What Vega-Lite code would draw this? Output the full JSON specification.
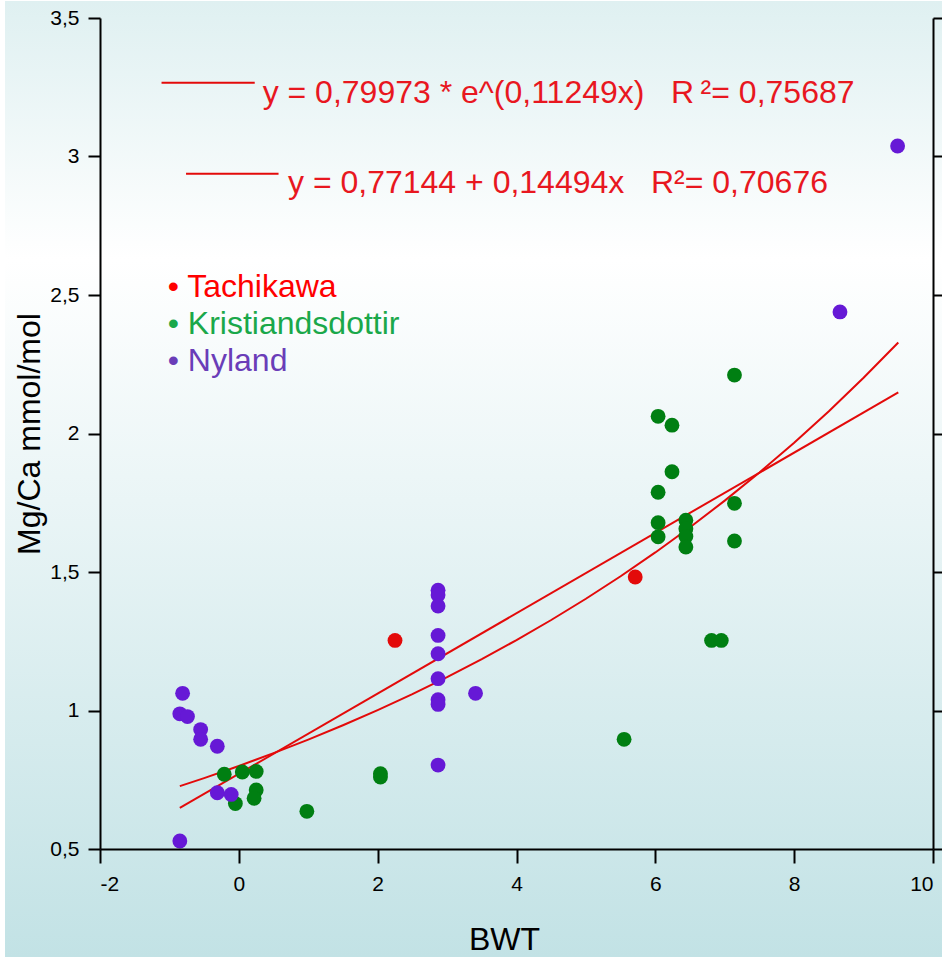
{
  "$schema": "https://vega.github.io/schema/vega-lite/v6.json",
  "width": 833,
  "height": 831,
  "padding": {"left": 5, "top": 0, "right": 0, "bottom": 0},
  "autosize": {"type": "pad"},
  "background": "#ffffff",
  "config": {
    "view": {"stroke": null},
    "font": "Liberation Sans",
    "axis": {
      "grid": false,
      "domainColor": "#000000",
      "domainWidth": 2,
      "tickColor": "#000000",
      "tickWidth": 2,
      "labelFont": "Liberation Sans",
      "labelFontSize": 21,
      "labelColor": "#000000",
      "titleFont": "Liberation Sans",
      "titleFontSize": 32,
      "titleFontWeight": "normal",
      "titleColor": "#000000"
    }
  },
  "datasets": {
    "samples": [
      {"source": "Tachikawa", "bwt": 2.25, "mgca": 1.253},
      {"source": "Tachikawa", "bwt": 5.71, "mgca": 1.482},
      {"source": "Kristiandsdottir", "bwt": -0.21, "mgca": 0.770},
      {"source": "Kristiandsdottir", "bwt": 0.05, "mgca": 0.778},
      {"source": "Kristiandsdottir", "bwt": 0.25, "mgca": 0.780},
      {"source": "Kristiandsdottir", "bwt": 0.25, "mgca": 0.713},
      {"source": "Kristiandsdottir", "bwt": 0.22, "mgca": 0.683},
      {"source": "Kristiandsdottir", "bwt": -0.05, "mgca": 0.664},
      {"source": "Kristiandsdottir", "bwt": 0.98, "mgca": 0.636},
      {"source": "Kristiandsdottir", "bwt": 2.04, "mgca": 0.772},
      {"source": "Kristiandsdottir", "bwt": 2.04, "mgca": 0.760},
      {"source": "Kristiandsdottir", "bwt": 5.55, "mgca": 0.896},
      {"source": "Kristiandsdottir", "bwt": 6.04, "mgca": 2.062},
      {"source": "Kristiandsdottir", "bwt": 6.04, "mgca": 1.788},
      {"source": "Kristiandsdottir", "bwt": 6.04, "mgca": 1.678},
      {"source": "Kristiandsdottir", "bwt": 6.04, "mgca": 1.627},
      {"source": "Kristiandsdottir", "bwt": 6.24, "mgca": 2.030},
      {"source": "Kristiandsdottir", "bwt": 6.24, "mgca": 1.862},
      {"source": "Kristiandsdottir", "bwt": 6.44, "mgca": 1.687},
      {"source": "Kristiandsdottir", "bwt": 6.44, "mgca": 1.656},
      {"source": "Kristiandsdottir", "bwt": 6.44, "mgca": 1.628},
      {"source": "Kristiandsdottir", "bwt": 6.44, "mgca": 1.590},
      {"source": "Kristiandsdottir", "bwt": 6.81, "mgca": 1.253},
      {"source": "Kristiandsdottir", "bwt": 6.95, "mgca": 1.253},
      {"source": "Kristiandsdottir", "bwt": 7.14, "mgca": 2.211},
      {"source": "Kristiandsdottir", "bwt": 7.14, "mgca": 1.748},
      {"source": "Kristiandsdottir", "bwt": 7.14, "mgca": 1.612},
      {"source": "Nyland", "bwt": 9.49, "mgca": 3.038},
      {"source": "Nyland", "bwt": 8.66, "mgca": 2.439},
      {"source": "Nyland", "bwt": -0.81, "mgca": 1.062},
      {"source": "Nyland", "bwt": -0.85, "mgca": 0.988},
      {"source": "Nyland", "bwt": -0.74, "mgca": 0.978},
      {"source": "Nyland", "bwt": -0.55, "mgca": 0.931},
      {"source": "Nyland", "bwt": -0.55, "mgca": 0.896},
      {"source": "Nyland", "bwt": -0.31, "mgca": 0.871},
      {"source": "Nyland", "bwt": -0.31, "mgca": 0.703},
      {"source": "Nyland", "bwt": -0.11, "mgca": 0.697},
      {"source": "Nyland", "bwt": -0.85, "mgca": 0.529},
      {"source": "Nyland", "bwt": 2.87, "mgca": 1.434},
      {"source": "Nyland", "bwt": 2.87, "mgca": 1.417},
      {"source": "Nyland", "bwt": 2.87, "mgca": 1.377},
      {"source": "Nyland", "bwt": 2.87, "mgca": 1.271},
      {"source": "Nyland", "bwt": 2.87, "mgca": 1.205},
      {"source": "Nyland", "bwt": 2.87, "mgca": 1.115},
      {"source": "Nyland", "bwt": 2.87, "mgca": 1.039},
      {"source": "Nyland", "bwt": 2.87, "mgca": 1.022},
      {"source": "Nyland", "bwt": 2.87, "mgca": 0.803},
      {"source": "Nyland", "bwt": 3.41, "mgca": 1.062}
    ],
    "expFit": [
      {"bwt": -0.85, "mgca": 0.7268},
      {"bwt": -0.5, "mgca": 0.7560},
      {"bwt": 0, "mgca": 0.7997},
      {"bwt": 0.5, "mgca": 0.8460},
      {"bwt": 1, "mgca": 0.8949},
      {"bwt": 1.5, "mgca": 0.9467},
      {"bwt": 2, "mgca": 1.0015},
      {"bwt": 2.5, "mgca": 1.0594},
      {"bwt": 3, "mgca": 1.1207},
      {"bwt": 3.5, "mgca": 1.1856},
      {"bwt": 4, "mgca": 1.2542},
      {"bwt": 4.5, "mgca": 1.3267},
      {"bwt": 5, "mgca": 1.4035},
      {"bwt": 5.5, "mgca": 1.4847},
      {"bwt": 6, "mgca": 1.5706},
      {"bwt": 6.5, "mgca": 1.6615},
      {"bwt": 7, "mgca": 1.7576},
      {"bwt": 7.5, "mgca": 1.8593},
      {"bwt": 8, "mgca": 1.9669},
      {"bwt": 8.5, "mgca": 2.0807},
      {"bwt": 9, "mgca": 2.2011},
      {"bwt": 9.5, "mgca": 2.3284}
    ],
    "linFit": [
      {"bwt": -0.85, "mgca": 0.6482},
      {"bwt": 9.5, "mgca": 2.1484}
    ]
  },
  "layer": [
    {
      "description": "slide background gradient",
      "data": {"values": [{}]},
      "mark": {
        "type": "rect",
        "fill": {
          "gradient": "linear",
          "x1": 0, "y1": 0, "x2": 0, "y2": 1,
          "stops": [
            {"offset": 0, "color": "#dff0f1"},
            {"offset": 0.27, "color": "#ffffff"},
            {"offset": 1, "color": "#c2e2e5"}
          ]
        }
      },
      "encoding": {
        "x": {
          "datum": -3.3685, "type": "quantitative",
          "scale": {"domain": [-2, 10], "nice": false, "zero": false},
          "axis": {
            "zindex": 2, "title": "BWT", "values": [-2, 0, 2, 4, 6, 8, 10], "tickSize": 14, "labelPadding": 10,
            "titlePadding": 30, "titleX": 404,
            "labelExpr": "replace(toString(datum.value), '.', ',')"
          }
        },
        "x2": {"datum": 10.1296},
        "y": {
          "datum": 3.5614, "type": "quantitative",
          "scale": {"domain": [0.5, 3.5], "nice": false, "zero": false},
          "axis": {
            "zindex": 2, "title": "Mg/Ca mmol/mol", "orient": "left", "values": [0.5, 1, 1.5, 2, 2.5, 3, 3.5],
            "tickSize": 12, "labelPadding": 9, "titlePadding": 3,
            "labelExpr": "replace(toString(datum.value), '.', ',')"
          }
        },
        "y2": {"datum": 0.1065}
      }
    },
    {
      "data": {"name": "linFit"},
      "mark": {"type": "line", "color": "#e30a0a", "strokeWidth": 2},
      "encoding": {
        "x": {"field": "bwt", "type": "quantitative", "scale": {"domain": [-2, 10], "nice": false, "zero": false}, "title": "BWT"},
        "y": {
          "field": "mgca", "type": "quantitative",
          "scale": {"domain": [0.5, 3.5], "nice": false, "zero": false},
          "axis": {"zindex": 2, "orient": "right", "labels": false, "title": null, "tickSize": 9, "values": [0.5, 1, 1.5, 2, 2.5, 3, 3.5]}
        }
      }
    },
    {
      "data": {"name": "expFit"},
      "mark": {"type": "line", "color": "#e30a0a", "strokeWidth": 2},
      "encoding": {
        "x": {"field": "bwt", "type": "quantitative", "scale": {"domain": [-2, 10], "nice": false, "zero": false}, "title": "BWT"},
        "y": {"field": "mgca", "type": "quantitative", "scale": {"domain": [0.5, 3.5], "nice": false, "zero": false}, "axis": null}
      }
    },
    {
      "data": {"name": "samples"},
      "mark": {"type": "circle", "size": 220, "opacity": 1},
      "encoding": {
        "x": {"field": "bwt", "type": "quantitative", "scale": {"domain": [-2, 10], "nice": false, "zero": false}, "title": "BWT"},
        "y": {"field": "mgca", "type": "quantitative", "scale": {"domain": [0.5, 3.5], "nice": false, "zero": false}, "axis": null},
        "color": {
          "field": "source", "type": "nominal",
          "scale": {"domain": ["Tachikawa", "Kristiandsdottir", "Nyland"], "range": ["#e30a0a", "#007f12", "#6619d6"]},
          "legend": null
        }
      }
    },
    {
      "data": {"values": [{}]},
      "mark": {"type": "rule", "color": "#e30a0a", "strokeWidth": 2},
      "encoding": {
        "x": {"datum": -1.1135, "type": "quantitative", "scale": {"domain": [-2, 10], "nice": false, "zero": false}, "title": "BWT"},
        "x2": {"datum": 0.229},
        "y": {"datum": 3.2664, "type": "quantitative", "scale": {"domain": [0.5, 3.5], "nice": false, "zero": false}, "axis": null}
      }
    },
    {
      "data": {"values": [{}]},
      "mark": {"type": "rule", "color": "#e30a0a", "strokeWidth": 2},
      "encoding": {
        "x": {"datum": -0.7606, "type": "quantitative", "scale": {"domain": [-2, 10], "nice": false, "zero": false}, "title": "BWT"},
        "x2": {"datum": 0.572},
        "y": {"datum": 2.9379, "type": "quantitative", "scale": {"domain": [0.5, 3.5], "nice": false, "zero": false}, "axis": null}
      }
    },
    {
      "data": {"values": [{}]},
      "mark": {"type": "text", "align": "left", "baseline": "alphabetic", "fontSize": 32, "color": "#e8171f", "text": "y = 0,79973 * e^(0,11249x)\u00a0\u00a0\u00a0R\u2009²= 0,75687"},
      "encoding": {
        "x": {"datum": 0.3429, "type": "quantitative", "scale": {"domain": [-2, 10], "nice": false, "zero": false}, "title": "BWT"},
        "y": {"datum": 3.1942, "type": "quantitative", "scale": {"domain": [0.5, 3.5], "nice": false, "zero": false}, "axis": null}
      }
    },
    {
      "data": {"values": [{}]},
      "mark": {"type": "text", "align": "left", "baseline": "alphabetic", "fontSize": 32, "color": "#e8171f", "text": "y = 0,77144 + 0,14494x\u00a0\u00a0\u00a0R²= 0,70676"},
      "encoding": {
        "x": {"datum": 0.7087, "type": "quantitative", "scale": {"domain": [-2, 10], "nice": false, "zero": false}, "title": "BWT"},
        "y": {"datum": 2.8693, "type": "quantitative", "scale": {"domain": [0.5, 3.5], "nice": false, "zero": false}, "axis": null}
      }
    },
    {
      "data": {"values": [{}]},
      "mark": {"type": "text", "align": "left", "baseline": "alphabetic", "fontSize": 32, "color": "#ff0000", "text": "• Tachikawa"},
      "encoding": {
        "x": {"datum": -1.0242, "type": "quantitative", "scale": {"domain": [-2, 10], "nice": false, "zero": false}, "title": "BWT"},
        "y": {"datum": 2.4928, "type": "quantitative", "scale": {"domain": [0.5, 3.5], "nice": false, "zero": false}, "axis": null}
      }
    },
    {
      "data": {"values": [{}]},
      "mark": {"type": "text", "align": "left", "baseline": "alphabetic", "fontSize": 32, "color": "#1aa84a", "text": "• Kristiandsdottir"},
      "encoding": {
        "x": {"datum": -1.0242, "type": "quantitative", "scale": {"domain": [-2, 10], "nice": false, "zero": false}, "title": "BWT"},
        "y": {"datum": 2.3603, "type": "quantitative", "scale": {"domain": [0.5, 3.5], "nice": false, "zero": false}, "axis": null}
      }
    },
    {
      "data": {"values": [{}]},
      "mark": {"type": "text", "align": "left", "baseline": "alphabetic", "fontSize": 32, "color": "#6a3db8", "text": "• Nyland"},
      "encoding": {
        "x": {"datum": -1.0242, "type": "quantitative", "scale": {"domain": [-2, 10], "nice": false, "zero": false}, "title": "BWT"},
        "y": {"datum": 2.2256, "type": "quantitative", "scale": {"domain": [0.5, 3.5], "nice": false, "zero": false}, "axis": null}
      }
    }
  ],
  "resolve": {"scale": {"x": "shared", "y": "shared"}, "axis": {"y": "independent"}}
}
